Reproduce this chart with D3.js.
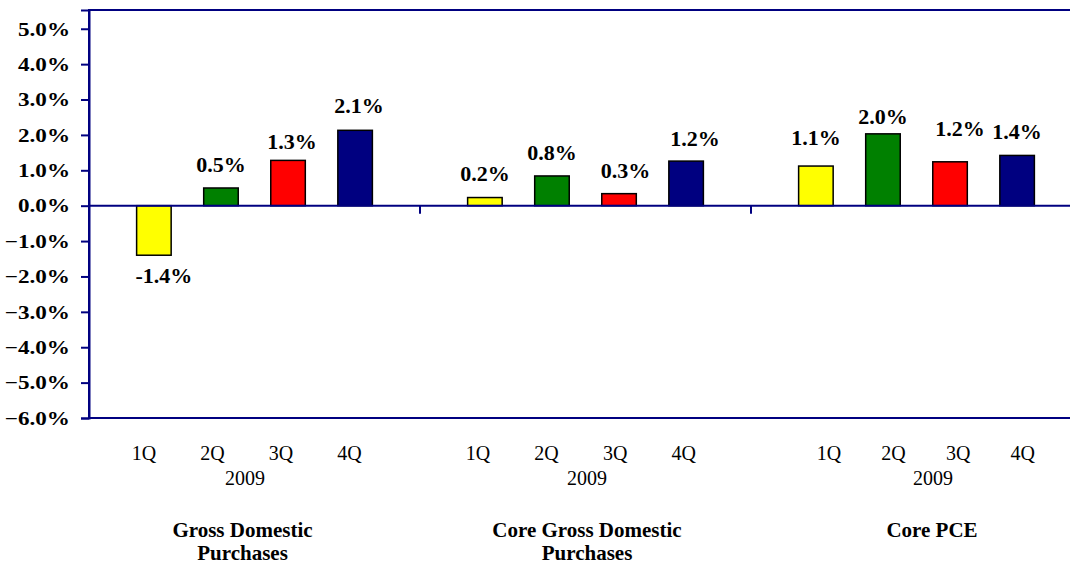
<!DOCTYPE html>
<html>
<head>
<meta charset="utf-8">
<script src="https://cdn.jsdelivr.net/npm/d3@7"></script>
<style>
  html, body { margin: 0; padding: 0; background: #fff; }
  svg { display: block; }
  text { font-family: "Liberation Serif", "Times New Roman", serif; fill: #000; }
</style>
</head>
<body>
<svg id="chart" width="1070" height="566"></svg>
<script>
// ---- data ----
const groups = ["Gross Domestic Purchases", "Core Gross Domestic Purchases", "Core PCE"];
const groupTitleLines = [["Gross Domestic", "Purchases"], ["Core Gross Domestic", "Purchases"], ["Core PCE"]];
const quarters = ["1Q", "2Q", "3Q", "4Q"];
const yearLabel = "2009";
const gdpValues = [-1.4, 0.5, 1.28, 2.13];
const coreGdpValues = [0.23, 0.84, 0.34, 1.26];
const corePceValues = [1.12, 2.03, 1.24, 1.42];
const gdpLabels = ["-1.4%", "0.5%", "1.3%", "2.1%"];
const coreGdpLabels = ["0.2%", "0.8%", "0.3%", "1.2%"];
const corePceLabels = ["1.1%", "2.0%", "1.2%", "1.4%"];
const yTicks = [-6, -5, -4, -3, -2, -1, 0, 1, 2, 3, 4, 5];

// ---- layout / style ----
const colors = ["#FFFF00", "#008000", "#FF0000", "#000080"];
const axisColor = "#000080";
const labelNudge = [ // [dx, dy] per bar label
  [[10, 0], [0, 0.5], [4, 5], [4, -1]],
  [[0, -0.7], [0, 0.2], [6.5, 0], [9, 0.8]],
  [[0, -5], [0, 6.3], [10, -10], [0, -0.3]]
];
// quarter labels sit on their own positions under each group
const qLabelRanges = [[144, 349.5], [478, 683.7], [829, 1022.8]];
const yearCenters = [245, 587, 933];
const titleCenters = [242.5, 587, 932];

const valuesByGroup = [gdpValues, coreGdpValues, corePceValues];
const labelsByGroup = [gdpLabels, coreGdpLabels, corePceLabels];

const svg = d3.select("#chart");
const pL = 89, pR = 1082, pT = 10, pB = 418;

const y = d3.scaleLinear().domain([-6, 5.53]).range([pB, pT]);
const x0 = d3.scaleBand().domain(groups).range([pL, pR]).paddingInner(0).paddingOuter(0);
const x1 = d3.scaleBand().domain(quarters).range([0, x0.bandwidth()]).paddingInner(0.485).paddingOuter(0.71);

// plot frame
svg.append("rect")
  .attr("x", pL).attr("y", pT)
  .attr("width", pR - pL).attr("height", pB - pT)
  .attr("fill", "none").attr("stroke", axisColor).attr("stroke-width", 2);

// bars
const data = [];
groups.forEach((g, gi) => quarters.forEach((q, qi) => data.push({
  g, gi, q, qi, v: valuesByGroup[gi][qi], label: labelsByGroup[gi][qi]
})));

svg.append("g").selectAll("rect").data(data).join("rect")
  .attr("x", d => x0(d.g) + x1(d.q))
  .attr("y", d => y(Math.max(0, d.v)))
  .attr("width", x1.bandwidth())
  .attr("height", d => Math.abs(y(d.v) - y(0)))
  .attr("fill", d => colors[d.qi])
  .attr("stroke", "#000").attr("stroke-width", 1.5);

// zero line with group-boundary ticks
svg.append("line")
  .attr("x1", pL).attr("x2", pR)
  .attr("y1", y(0)).attr("y2", y(0))
  .attr("stroke", axisColor).attr("stroke-width", 2);
svg.append("g").selectAll("line").data(groups.slice(1)).join("line")
  .attr("x1", d => x0(d)).attr("x2", d => x0(d))
  .attr("y1", y(0)).attr("y2", y(0) + 8)
  .attr("stroke", axisColor).attr("stroke-width", 2);

// y axis
const sx = 1.25;
const yAxis = svg.append("g").attr("transform", `translate(${pL},0)`)
  .call(d3.axisLeft(y).tickValues(yTicks).tickSize(8).tickFormat(d => d3.format(".1f")(d) + "%"));
yAxis.select(".domain").attr("stroke", axisColor).attr("stroke-width", 2);
yAxis.selectAll(".tick line").attr("stroke", axisColor).attr("stroke-width", 2);
yAxis.selectAll(".tick text")
  .attr("x", -19 / sx).attr("dy", "0.34em")
  .attr("transform", `scale(${sx},1)`)
  .style("font-family", '"Liberation Serif", "Times New Roman", serif')
  .style("font-weight", "bold").style("font-size", "18.5px").attr("fill", "#000");

// value labels
svg.append("g").selectAll("text").data(data).join("text")
  .attr("x", d => x0(d.g) + x1(d.q) + x1.bandwidth() / 2 + labelNudge[d.gi][d.qi][0])
  .attr("y", d => (d.v >= 0 ? y(d.v) - 16 : y(d.v) + 28) + labelNudge[d.gi][d.qi][1])
  .attr("text-anchor", "middle")
  .style("font-weight", "bold").style("font-size", "22px")
  .text(d => d.label);

// category labels
groups.forEach((g, gi) => {
  const qx = d3.scalePoint().domain(quarters).range(qLabelRanges[gi]);
  const gEl = svg.append("g");
  gEl.selectAll("text.q").data(quarters).join("text")
    .attr("class", "q")
    .attr("x", d => qx(d)).attr("y", 460)
    .attr("text-anchor", "middle")
    .style("font-size", "20px")
    .text(d => d);
  gEl.append("text")
    .attr("x", yearCenters[gi]).attr("y", 485)
    .attr("text-anchor", "middle")
    .style("font-size", "20px")
    .text(yearLabel);
  gEl.selectAll("text.t").data(groupTitleLines[gi]).join("text")
    .attr("class", "t")
    .attr("x", titleCenters[gi])
    .attr("y", (d, i) => 537 + i * 22.5)
    .attr("text-anchor", "middle")
    .style("font-weight", "bold").style("font-size", "21px")
    .text(d => d);
});
</script>
</body>
</html>
